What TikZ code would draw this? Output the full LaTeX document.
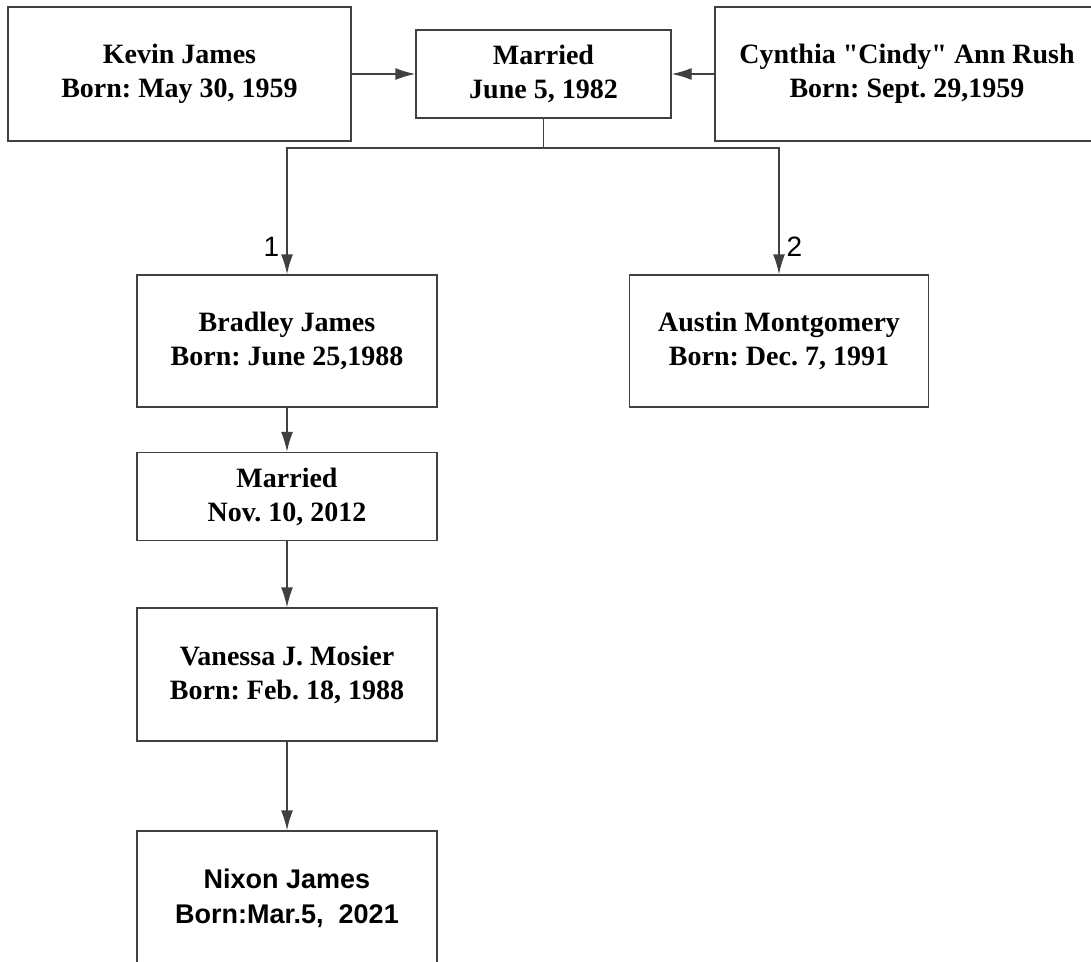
\documentclass[tikz,border=0pt]{standalone}
\usepackage{fontspec}
\setmainfont{Liberation Serif}
\setsansfont{Liberation Sans}
\usepackage{tikz}
\usetikzlibrary{arrows.meta}
\tikzset{
  personbox/.style={draw=black!75, line width=1.4pt, rectangle, align=center,
    minimum height=134pt, font=\fontsize{28}{34}\selectfont\bfseries\frenchspacing},
  weddingbox/.style={personbox, minimum height=88pt},
  arr/.style={draw=black!75, line width=1.4pt, -{Latex[length=20pt,width=12pt]}},
  countlabel/.style={font=\sffamily\fontsize{28}{32}\selectfont, inner sep=7pt}
}

\begin{document}
\begin{tikzpicture}[x=1pt, y=-1pt]
\useasboundingbox (0,0) rectangle (1091,961);
\clip (0,0) rectangle (1091,961);
\node[personbox, minimum width=343pt] at (179.5, 74)  (kevin) {Kevin James\\Born: May 30, 1959};
\node[weddingbox, minimum width=255pt] at (543.5, 74) (wed1) {Married\\June 5, 1982};
\node[personbox, minimum width=384pt] at (907, 74)    (cindy) {Cynthia \textquotedbl Cindy\textquotedbl{} Ann Rush\\Born: Sept. 29,1959};
\node[personbox, minimum width=300pt, minimum height=132pt] at (287, 341) (bradley) {Bradley James\\Born: June 25,1988};
\node[personbox, minimum width=299pt, minimum height=132pt] at (779, 341) (austin) {Austin Montgomery\\Born: Dec. 7, 1991};
\node[weddingbox, minimum width=300pt] at (287, 496.5) (wed2) {Married\\Nov. 10, 2012};
\node[personbox, minimum width=300pt, minimum height=133pt] at (287, 674.5) (vanessa) {Vanessa J. Mosier\\Born: Feb. 18, 1988};
\node[personbox, minimum width=300pt, font=\sffamily\fontsize{27}{35}\selectfont\bfseries] at (287, 898) (nixon) {Nixon James\\Born:Mar.5,\ \ 2021};
\coordinate (fork) at (543.5, 148);
\draw[arr] (kevin) -- (wed1);
\draw[arr] (cindy) -- (wed1);
\draw[arr] (wed1.south) -- (fork) -| node[countlabel, pos=0.89, left] {1} (bradley.north);
\draw[arr] (fork) -| node[countlabel, pos=0.89, right] {2} (austin.north);
\draw[arr] (bradley) -- (wed2);
\draw[arr] (wed2) -- (vanessa);
\draw[arr] (vanessa) -- (nixon);
\end{tikzpicture}
\end{document}
